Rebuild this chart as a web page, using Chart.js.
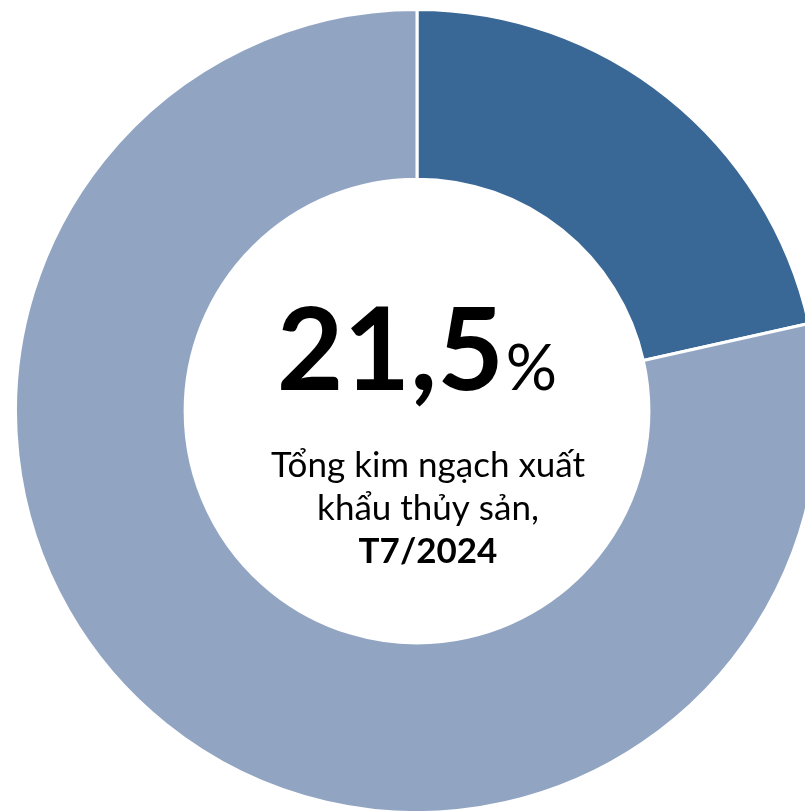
<!DOCTYPE html>
<html>
<head>
<meta charset="utf-8">
<script src="https://cdn.jsdelivr.net/npm/chart.js@4"></script>
<style>
  html, body { margin: 0; padding: 0; background: #fff; overflow: hidden; }
  #wrap { position: relative; width: 830px; height: 820px; }
</style>
</head>
<body>
<div id="wrap"><canvas id="shareChart"></canvas></div>
<script>
const labels = ['Tỷ trọng', 'Còn lại'];
const values = [21.5, 78.5];
const colors = ['#3a6896', '#91a5c3'];
const bigValue = '21,5';
const bigUnit = '%';
const captionLines = ['Tổng kim ngạch xuất', 'khẩu thủy sản,'];
const captionBold = 'T7/2024';

// text in the hole
const centerText = {
    id: 'centerText',
    afterDraw(chart) {
        const ctx = chart.ctx;
        const arc = chart.getDatasetMeta(0).data[0];
        const cx = arc.x, cy = arc.y;
        ctx.save();
        ctx.fillStyle = '#000';
        ctx.textBaseline = 'alphabetic';

        ctx.font = 'bold 115px Lato';
        const w1 = ctx.measureText(bigValue).width;
        ctx.font = '64px Lato';
        const w2 = ctx.measureText(bigUnit).width;
        const start = cx - (w1 + w2 + 2) / 2;
        ctx.textAlign = 'left';
        ctx.font = 'bold 115px Lato';
        ctx.fillText(bigValue, start, cy - 21);
        ctx.font = '64px Lato';
        ctx.fillText(bigUnit, start + w1 + 2, cy - 21);

        // caption sits a little right of centre in the original
        const tx = cx + 11;
        ctx.textAlign = 'center';
        ctx.font = '35px Lato';
        captionLines.forEach((t, i) => ctx.fillText(t, tx, cy + 66 + i * 43));
        ctx.font = 'bold 35px Lato';
        ctx.fillText(captionBold, tx, cy + 66 + captionLines.length * 43);
        ctx.restore();
    }
};

new Chart(document.getElementById('shareChart'), {
    type: 'doughnut',
    data: {
        labels: labels,
        datasets: [{
            data: values,
            backgroundColor: colors,
            borderColor: '#fff',
            borderWidth: 3
        }]
    },
    options: {
        responsive: true,
        maintainAspectRatio: false,
        animation: false,
        cutout: '57.75%',
        layout: { padding: { left: 14, top: 8, right: 10, bottom: 6 } },
        plugins: {
            legend: { display: false },
            tooltip: { enabled: false }
        }
    },
    plugins: [centerText]
});
</script>
</body>
</html>
